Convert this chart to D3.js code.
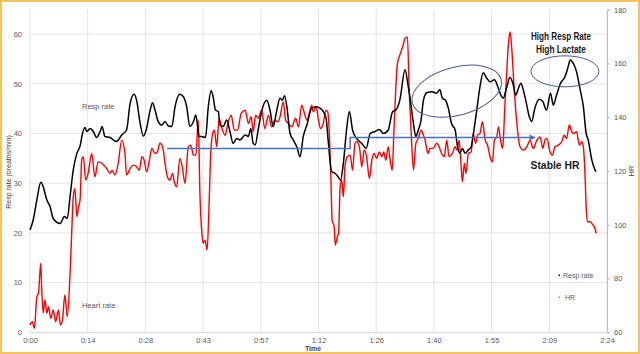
<!DOCTYPE html>
<html>
<head>
<meta charset="utf-8">
<script src="https://cdn.jsdelivr.net/npm/d3@7"></script>
<style>
  html, body { margin: 0; padding: 0; background: #fff; }
  svg { display: block; }
  text { font-family: "Liberation Sans", Arial, sans-serif; }
</style>
</head>
<body>
<svg id="chart" width="640" height="354"></svg>
<script>
// ---- data (time in minutes) ----
const respTime = [0,0.8,1.7,2.7,3.3,4.2,5.0,5.8,7.5,8.6,9.3,10.0,10.8,11.7,12.5,13.1,13.7,14.2,15.0,15.8,16.6,17.5,18.0,18.7,20.0,20.8,21.6,22.9,24.1,25.0,26.0,26.6,27.5,28.3,29.1,29.9,30.6,31.2,32.0,32.9,33.7,34.5,35.4,36.2,37.4,38.3,39.1,39.9,40.8,41.4,42.2,42.8,43.8,44.5,45.2,45.7,46.3,47.0,47.4,48.2,49.1,49.9,50.7,51.6,52.4,53.7,54.5,55.1,55.7,56.2,57.0,57.8,59.1,59.9,60.7,61.6,62.4,63.0,63.5,64.1,64.9,65.7,66.6,67.4,68.2,69.1,70.3,71.4,72.4,73.2,73.9,74.4,75.3,76.1,76.9,77.5,78.2,79.0,79.7,80.5,81.5,82.8,83.9,84.9,86.1,87.2,88.2,89.4,90.5,91.3,92.3,93.6,94.4,94.8,95.7,96.3,96.9,97.6,98.2,99.0,100.3,101.5,102.3,102.9,103.7,104.4,105.2,106.1,106.7,107.3,107.9,108.6,109.4,110.1,110.8,111.5,112.3,113.1,114.0,114.8,115.9,116.9,117.7,118.1,119.0,119.8,120.6,121.2,121.9,122.5,123.1,123.8,124.6,125.2,126.0,127.1,128.0,128.9,129.9,130.6,131.4,132.4,133.5,134.3,134.8,135.6,136.4,137.3,138.1,138.8,139.3,140.2,141.2];
const respValue = [20.6,22.6,26.6,30.2,29.3,26.6,25.3,22.9,21.9,23.3,22.9,27.3,32.7,36.0,37.5,40.0,41.2,40.4,41.0,40.4,39.2,40.4,41.4,39.4,39.2,38.7,38.4,39.7,40.7,46.1,47.9,46.7,42.0,39.5,41.0,44.4,46.2,44.7,42.4,41.7,42.4,41.5,41.4,45.4,47.9,47.4,45.4,41.4,42.4,43.7,39.4,39.4,39.2,45.4,48.6,47.4,44.7,44.4,41.7,41.4,42.7,40.4,38.0,39.0,38.7,39.7,39.4,41.0,38.0,37.7,41.0,44.4,46.7,44.7,41.4,44.7,47.1,46.7,47.6,45.4,40.0,38.7,37.3,35.3,39.4,41.7,45.1,45.4,45.1,44.4,43.1,38.7,32.3,32.0,31.3,30.6,34.0,40.7,44.4,40.7,39.0,38.0,37.0,40.0,40.4,40.8,40.0,40.7,44.4,44.7,46.7,52.8,49.4,47.4,42.0,39.4,40.7,42.7,46.7,48.2,48.4,48.1,48.8,47.1,46.7,45.1,42.0,40.7,37.3,36.0,37.0,36.0,36.7,37.3,40.7,44.7,49.4,52.2,51.1,50.4,50.8,49.1,47.4,47.1,49.4,51.3,49.8,47.7,49.1,50.1,48.8,46.4,43.4,42.4,45.1,46.9,46.4,44.7,48.1,45.7,47.7,50.1,51.4,53.4,54.8,54.1,52.4,48.8,45.4,40.0,38.7,34.7,32.3];

const hrTime = [0,0.6,1.1,1.7,2.1,2.7,2.9,3.3,3.7,4.2,4.6,5.2,5.8,6.4,7.1,7.6,8.1,8.7,9.3,10.0,10.4,10.8,11.2,11.7,12.1,12.5,12.9,13.3,13.9,14.5,15.4,16.2,17.0,18.0,19.1,20.0,20.5,21.2,22.0,22.9,23.7,24.1,25.0,25.8,26.6,27.3,27.9,28.5,29.1,29.8,30.4,31.2,31.8,32.4,33.1,33.7,34.3,34.9,35.6,36.0,36.6,37.4,38.0,38.7,39.5,40.1,40.8,41.4,42.0,42.4,42.9,43.2,43.7,44.2,44.7,45.1,45.6,46.0,46.6,47.2,47.8,48.7,49.3,50.2,51.0,51.8,52.7,53.7,54.5,55.2,55.7,56.3,57.0,57.8,58.6,59.5,60.3,61.1,61.8,62.4,63.2,63.8,64.5,65.3,66.3,67.0,67.8,68.5,69.1,69.9,70.3,70.7,71.4,72.0,72.5,73.2,73.8,74.3,74.7,75.1,75.4,75.9,76.2,76.7,77.0,77.4,77.8,78.2,78.6,79.2,79.9,80.5,81.1,81.5,82.2,82.8,83.4,84.0,84.7,85.3,85.9,86.5,87.2,87.8,88.3,88.8,89.4,90.0,90.4,90.8,91.3,91.7,92.3,93.0,93.6,94.2,94.6,95.1,95.7,96.3,96.9,97.6,98.2,98.6,99.3,99.8,100.6,101.5,102.1,102.7,103.4,104.0,104.6,105.4,106.1,106.6,107.1,107.6,107.9,108.4,108.8,109.4,110.1,110.6,111.2,111.7,112.3,112.9,113.6,114.2,114.8,115.4,115.9,116.5,116.9,117.5,117.9,118.1,118.5,119.0,119.4,119.8,120.2,120.8,121.5,122.3,123.1,124.0,124.8,125.6,126.5,127.3,128.0,128.5,129.0,129.8,130.4,131.0,131.8,132.7,133.3,133.9,134.6,135.2,135.8,136.4,137.1,137.7,138.1,138.5,138.8,139.1,139.8,140.5,141.0,141.3];
const hrValue = [62.7,63.9,61.5,73.2,74.5,85.7,77.0,67.1,72.0,67.1,69.5,65.2,68.3,63.9,68.3,62.7,64.6,73.9,65.8,81.9,96.8,110.4,113.5,103.0,106.7,109.2,124.0,125.3,116.6,119.1,126.5,117.8,123.4,122.8,121.0,119.1,120.3,118.5,122.8,131.5,126.5,118.5,121.0,122.2,121.6,120.3,125.3,124.0,119.7,124.0,128.4,126.5,127.1,130.3,129.0,122.8,117.8,116.6,119.1,116.0,114.1,124.7,121.6,115.4,129.0,129.6,125.9,125.9,138.9,111.7,96.8,93.1,94.3,90.6,108.0,126.5,134.0,135.2,129.0,139.6,136.4,133.3,137.1,140.8,135.2,135.2,141.4,142.6,137.7,140.2,134.6,140.8,139.6,142.6,135.8,140.8,136.4,138.9,138.3,140.2,145.7,138.9,137.7,136.4,139.6,136.4,144.5,141.4,138.9,142.6,144.5,142.0,143.9,138.9,135.8,137.7,142.6,142.0,134.0,116.6,101.7,99.3,92.5,95.5,96.8,114.1,116.6,110.4,121.6,125.3,125.9,120.3,130.3,130.9,129.0,121.6,127.8,125.3,117.2,124.0,126.5,124.7,127.1,125.3,127.1,124.0,129.0,122.8,120.3,134.0,151.3,160.0,163.1,166.2,169.3,169.9,151.3,135.2,120.3,130.3,132.1,135.2,133.3,131.5,126.5,128.4,128.4,130.3,129.0,126.5,125.3,131.5,125.3,126.5,129.0,127.8,131.5,121.6,116.0,122.8,119.1,126.5,127.1,134.0,130.3,133.3,134.0,138.3,131.5,129.6,125.3,123.4,131.5,132.7,136.4,130.9,128.4,130.9,143.9,157.5,167.4,171.7,166.2,151.3,137.7,129.0,127.8,129.0,131.5,128.4,131.5,132.7,128.4,131.5,132.1,127.1,125.9,129.0,129.6,130.9,133.3,132.1,137.1,134.6,134.0,134.6,129.6,130.9,129.0,119.1,106.7,101.1,101.1,99.9,98.7,96.8];

const xTickValues = [0,14.4,28.8,43.2,57.6,72,86.4,100.8,115.2,129.6,144];
const xTickLabels = ["0:00","0:14","0:28","0:43","0:57","1:12","1:26","1:40","1:55","2:09","2:24"];
const leftTicks = [0,10,20,30,40,50,60];
const rightTicks = [60,80,100,120,140,160,180];

// blue "stable HR" step arrow (time, HR)
const arrowTime = [34.2, 79.9, 79.9, 126.0];
const arrowHR   = [128.4, 128.4, 132.5, 132.5];

// ---- drawing ----
const svg = d3.select("#chart");
const W = 640, H = 354;
const x = d3.scaleLinear().domain([0,144]).range([30,607]);
const yL = d3.scaleLinear().domain([0,65]).range([332.3, 9.2]);
const yR = d3.scaleLinear().domain([60,180]).range([332.3, 9.7]);

svg.append("rect").attr("x",0).attr("y",0).attr("width",W).attr("height",H).attr("fill","#fff");

// gridlines
svg.append("g").selectAll("line").data(leftTicks).join("line")
  .attr("x1",30).attr("x2",607).attr("y1",d=>yL(d)).attr("y2",d=>yL(d))
  .attr("stroke","#e3e3e3").attr("stroke-width",1);
svg.append("g").selectAll("line").data(xTickValues).join("line")
  .attr("x1",d=>x(d)).attr("x2",d=>x(d)).attr("y1",yL(65)).attr("y2",yL(0))
  .attr("stroke","#e3e3e3").attr("stroke-width",1);

// left axis
const gL = svg.append("g").attr("transform","translate(30,0)")
  .call(d3.axisLeft(yL).tickValues(leftTicks).tickSize(0).tickPadding(8));
gL.select(".domain").remove();
gL.selectAll("text").attr("fill","#595959").style("font-size","7.5px");

// right axis
const gR = svg.append("g").attr("transform","translate(607,0)")
  .call(d3.axisRight(yR).tickValues(rightTicks).tickSize(3).tickPadding(4));
gR.select(".domain").attr("stroke","#bfbfbf");
gR.selectAll(".tick line").attr("stroke","#bfbfbf");
gR.selectAll("text").attr("fill","#595959").style("font-size","7.5px");

// bottom axis
const gB = svg.append("g").attr("transform",`translate(0,${yL(0)})`)
  .call(d3.axisBottom(x).tickValues(xTickValues).tickFormat((d,i)=>xTickLabels[i]).tickSize(0).tickPadding(5));
gB.select(".domain").attr("stroke","#d9d9d9");
gB.selectAll("text").attr("fill","#595959").style("font-size","7.5px");

// axis titles
svg.append("text").attr("transform","translate(11,172) rotate(-90)")
  .attr("text-anchor","middle").attr("fill","#404040").style("font-size","7px")
  .text("Resp rate (breaths/min)");
svg.append("text").attr("x",313).attr("y",351)
  .attr("text-anchor","middle").attr("fill","#404040").style("font-size","7px").style("font-weight","bold")
  .text("Time");
svg.append("text").attr("transform","translate(634,171) rotate(-90)")
  .attr("text-anchor","middle").attr("fill","#404040").style("font-size","7.5px")
  .text("HR");

// lines
const respData = respTime.map((t,i)=>[t,respValue[i]]);
const hrData = hrTime.map((t,i)=>[t,hrValue[i]]);
svg.append("path").datum(hrData)
  .attr("fill","none").attr("stroke","#ff0000").attr("stroke-width",1.4)
  .attr("d", d3.line().x(d=>x(d[0])).y(d=>yR(d[1])).curve(d3.curveMonotoneX));
svg.append("path").datum(respData)
  .attr("fill","none").attr("stroke","#000").attr("stroke-width",1.5)
  .attr("d", d3.line().x(d=>x(d[0])).y(d=>yL(d[1])).curve(d3.curveMonotoneX));

// blue arrow
const defs = svg.append("defs");
defs.append("marker").attr("id","arr").attr("viewBox","0 0 10 10").attr("refX",9).attr("refY",5)
  .attr("markerWidth",4).attr("markerHeight",4).attr("orient","auto")
  .append("path").attr("d","M0,0 L10,5 L0,10 z").attr("fill","#4472c4");
svg.append("path").datum(arrowTime.map((t,i)=>[t,arrowHR[i]]))
  .attr("fill","none").attr("stroke","#4472c4").attr("stroke-width",1.5)
  .attr("marker-end","url(#arr)")
  .attr("d", d3.line().x(d=>x(d[0])).y(d=>yR(d[1])));

// ellipses
svg.append("ellipse").attr("cx",x(106.5)).attr("cy",yL(48.5)).attr("rx",46).attr("ry",24)
  .attr("transform",`rotate(-15 ${x(106.5)} ${yL(48.5)})`)
  .attr("fill","none").attr("stroke","#4a5a94").attr("stroke-width",1);
svg.append("ellipse").attr("cx",x(133.5)).attr("cy",yL(52.5)).attr("rx",34).attr("ry",15.5)
  .attr("fill","none").attr("stroke","#4a5a94").attr("stroke-width",1);

// annotations
function boldText(tx, ty, s, len){
  svg.append("text").attr("x",tx).attr("y",ty).attr("text-anchor","middle")
    .attr("fill","#1a1a1a").style("font-size","10px").style("font-weight","bold")
    .attr("textLength",len).attr("lengthAdjust","spacingAndGlyphs").text(s);
}
boldText(561, 40, "High Resp Rate", 60);
boldText(561, 53, "High Lactate", 50);
boldText(555, 169, "Stable HR", 49);

svg.append("text").attr("x",82).attr("y",109).attr("fill","#595959").style("font-size","7.5px").text("Resp rate");
svg.append("text").attr("x",82).attr("y",308).attr("fill","#595959").style("font-size","7.5px").text("Heart rate");

// legend
svg.append("rect").attr("x",558.5).attr("y",274.5).attr("width",1.5).attr("height",1.5).attr("fill","#000");
svg.append("text").attr("x",563).attr("y",278).attr("fill","#595959").style("font-size","7px").text("Resp rate");
svg.append("rect").attr("x",558.5).attr("y",296.5).attr("width",1.5).attr("height",1.5).attr("fill","#ff6060");
svg.append("text").attr("x",565).attr("y",300).attr("fill","#595959").style("font-size","7px").text("HR");

// frame border
svg.append("rect").attr("x",1).attr("y",1).attr("width",W-2).attr("height",H-2)
  .attr("fill","none").attr("stroke","#f7c35f").attr("stroke-width",2);
</script>
</body>
</html>
